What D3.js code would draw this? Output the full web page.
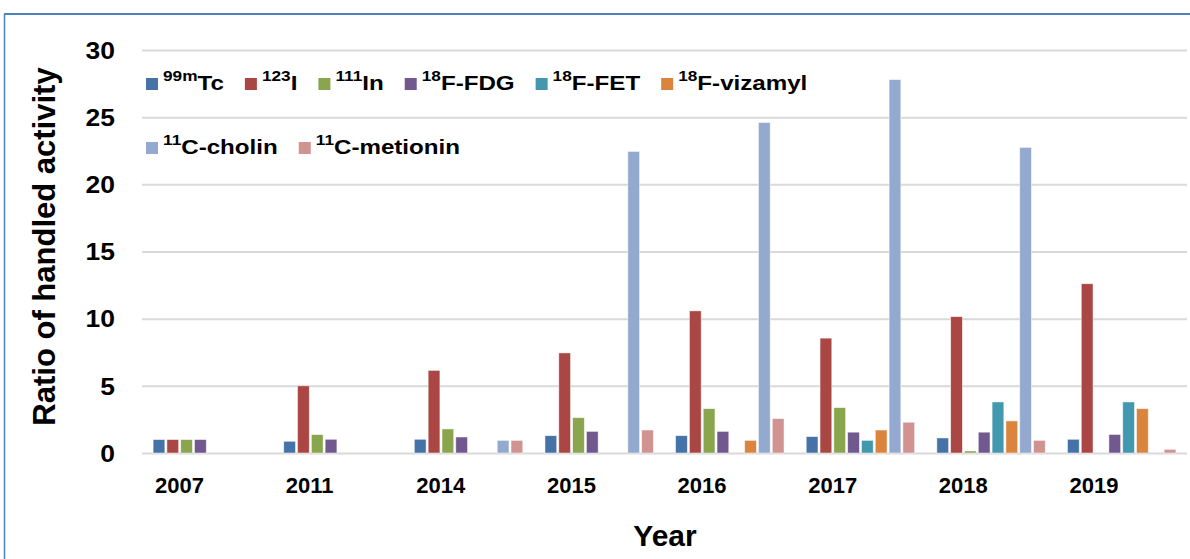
<!DOCTYPE html>
<html>
<head>
<meta charset="utf-8">
<script src="https://cdn.jsdelivr.net/npm/d3@7"></script>
<style>
  body { margin: 0; background: #fff; }
  text { font-family: "Liberation Sans", Arial, sans-serif; font-weight: bold; fill: #000; }
</style>
</head>
<body>
<div id="chart"></div>
<script>
// data
var years = ["2007", "2011", "2014", "2015", "2016", "2017", "2018", "2019"];
var seriesSup = ["99m", "123", "111", "18", "18", "18", "11", "11"];
var seriesName = ["Tc", "I", "In", "F-FDG", "F-FET", "F-vizamyl", "C-cholin", "C-metionin"];
var tc99m = [1.0, 0.87, 1.02, 1.29, 1.29, 1.22, 1.12, 1.02];
var i123 = [1.0, 5.0, 6.15, 7.45, 10.58, 8.55, 10.15, 12.6];
var in111 = [1.0, 1.37, 1.79, 2.63, 3.3, 3.38, 0.15, 0];
var fdg = [1.0, 1.02, 1.19, 1.61, 1.61, 1.55, 1.55, 1.38];
var fet = [0, 0, 0, 0, 0, 0.94, 3.8, 3.8];
var vizamyl = [0, 0, 0, 0, 0.94, 1.71, 2.39, 3.3];
var cholin = [0, 0, 0.94, 22.45, 24.6, 27.8, 22.75, 0];
var metionin = [0, 0, 0.94, 1.71, 2.56, 2.29, 0.94, 0.27];
var yTicks = [0, 5, 10, 15, 20, 25, 30];

var seriesValues = [tc99m, i123, in111, fdg, fet, vizamyl, cholin, metionin];
var colors = ["#4572A7", "#AA4643", "#89A54E", "#71588F", "#4198AF", "#DB843D", "#93A9CF", "#D19392"];

var svgWidth = 1190;
var svgHeight = 559;
var margin = { top: 50, right: 3, bottom: 106, left: 142 };
var width = svgWidth - margin.left - margin.right;
var height = svgHeight - margin.top - margin.bottom;
var stretch = 1.15; // text in the picture is a bit wide

var svg = d3.select("#chart")
    .append("svg")
    .attr("width", svgWidth)
    .attr("height", svgHeight);

// blue frame (top + left edge)
svg.append("line").attr("x1", 4).attr("x2", svgWidth).attr("y1", 14).attr("y2", 14)
    .attr("stroke", "#4F81BD").attr("stroke-width", 2);
svg.append("line").attr("x1", 4.5).attr("x2", 4.5).attr("y1", 14).attr("y2", svgHeight)
    .attr("stroke", "#4F81BD").attr("stroke-width", 1.5);

var chartGroup = svg.append("g")
    .attr("transform", "translate(" + margin.left + "," + margin.top + ")");

//scales
var x0 = d3.scaleBand().domain(years).range([0, width]).paddingInner(0.17).paddingOuter(0.085);
var x1 = d3.scaleBand().domain(d3.range(seriesName.length)).range([0, x0.bandwidth()]).paddingInner(0.15);
var yScale = d3.scaleLinear().domain([0, 30]).range([height, 0]);

//gridlines + y labels
var leftAxis = d3.axisLeft(yScale).tickValues(yTicks).tickSize(-width).tickPadding(27);
var yAxisG = chartGroup.append("g").call(leftAxis);
yAxisG.select(".domain").remove();
yAxisG.selectAll(".tick line").attr("stroke", "#d9d9d9").attr("stroke-width", 2);
yAxisG.selectAll(".tick text")
    .style("font-size", "23px")
    .attr("dy", "0.36em")
    .attr("x", -27 / stretch)
    .attr("transform", "scale(" + stretch + ",1)");

//bars
var groups = chartGroup.selectAll(".yearGroup")
    .data(years)
    .enter()
    .append("g")
    .attr("transform", d => "translate(" + x0(d) + ",0)");

groups.selectAll("rect")
    .data(function (d, yi) {
        return seriesValues.map((vals, si) => ({ s: si, v: vals[yi] }));
    })
    .enter()
    .filter(d => d.v > 0)
    .append("rect")
    .attr("x", d => x1(d.s))
    .attr("width", x1.bandwidth())
    .attr("y", d => yScale(d.v))
    .attr("height", d => height - yScale(d.v))
    .attr("fill", d => colors[d.s])
    .attr("stroke", "#fff")
    .attr("stroke-opacity", 0.6)
    .attr("stroke-width", 0.8);

//x labels, left aligned under first bar
var bottomAxis = d3.axisBottom(x0).tickSize(0).tickPadding(0);
var xAxisG = chartGroup.append("g")
    .attr("transform", "translate(0," + height + ")")
    .call(bottomAxis);
xAxisG.select(".domain").remove();
xAxisG.selectAll(".tick text")
    .style("font-size", "22px")
    .attr("text-anchor", "start")
    .attr("x", -x0.bandwidth() / 2 + 2)
    .attr("dy", 0)
    .attr("y", 40);

//axis titles
svg.append("text")
    .attr("transform", "translate(55," + (margin.top + height / 2 - 5) + ") rotate(-90)")
    .attr("text-anchor", "middle")
    .style("font-size", "31px")
    .text("Ratio of handled activity");

svg.append("text")
    .attr("x", 665)
    .attr("y", 546)
    .attr("text-anchor", "middle")
    .style("font-size", "30px")
    .text("Year");

//legend, two rows
var legend = svg.append("g");
var lx = 146, ly = 90;
seriesName.forEach(function (name, i) {
    if (i == 6) { lx = 146; ly = 154; }
    var item = legend.append("g").attr("transform", "translate(" + lx + "," + ly + ")");
    item.append("rect").attr("x", 0).attr("y", -12).attr("width", 12).attr("height", 12)
        .attr("fill", colors[i]);
    var t = item.append("text")
        .attr("x", 17 / stretch)
        .attr("y", 0)
        .attr("transform", "scale(" + stretch + ",1)")
        .style("font-size", "21px");
    t.append("tspan").style("font-size", "15px").attr("dy", -9).text(seriesSup[i]);
    t.append("tspan").attr("dy", 9).text(name);
    lx += 17 + t.node().getComputedTextLength() * stretch + 21;
});
</script>
</body>
</html>
